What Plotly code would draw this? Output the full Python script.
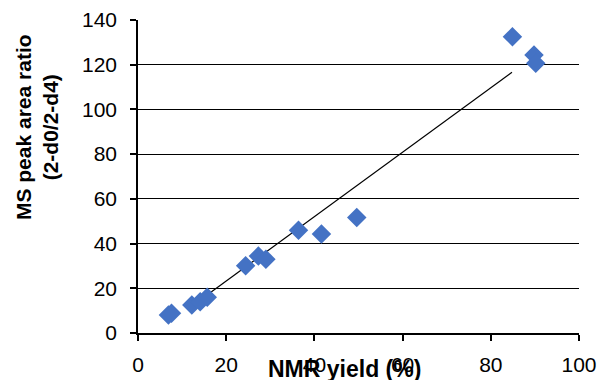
import plotly.graph_objects as go

nmr_yield = [6.9, 7.6, 12.2, 14.1, 15.7, 24.4, 27.3, 29.0, 36.4, 41.6, 49.6, 84.9, 89.8, 90.2]
ms_ratio = [8.0, 8.8, 12.5, 14.0, 16.0, 30.1, 34.4, 33.0, 46.0, 44.3, 51.7, 132.5, 124.3, 120.6]
trend_x = [14.5, 84.8]
trend_y = [15.3, 116.6]
x_ticks = [0, 20, 40, 60, 80, 100]
y_ticks = [0, 20, 40, 60, 80, 100, 120, 140]

fig = go.Figure()
fig.add_trace(go.Scatter(x=trend_x, y=trend_y, mode="lines",
                         line=dict(color="black", width=1.2), showlegend=False))
fig.add_trace(go.Scatter(x=nmr_yield, y=ms_ratio, mode="markers",
                         marker=dict(symbol="diamond", size=15, color="#4472C4"),
                         showlegend=False))

font = dict(family="Liberation Sans, Arial, sans-serif", color="black")
fig.update_layout(
    width=602, height=380,
    margin=dict(l=138, r=23, t=20, b=47),
    plot_bgcolor="white", paper_bgcolor="white",
    font=dict(**font, size=21),
    xaxis=dict(range=[0, 100], tickvals=x_ticks, showgrid=False, zeroline=False,
               showline=True, linecolor="black", linewidth=1.5,
               ticks="outside", ticklen=6, tickcolor="black", tickwidth=1.5,
               ticklabelstandoff=6, automargin=False,
               tickfont=dict(**font, size=21), fixedrange=True),
    yaxis=dict(range=[0, 140], tickvals=y_ticks, showgrid=True, gridcolor="black",
               gridwidth=1.2, zeroline=False,
               showline=True, linecolor="black", linewidth=1.5,
               ticks="outside", ticklen=6, tickcolor="black", tickwidth=1.5,
               ticklabelstandoff=9, automargin=False,
               tickfont=dict(**font, size=21), fixedrange=True),
    annotations=[
        dict(text="<b>NMR yield (%)</b>", xref="paper", yref="paper",
             x=0.469, y=0, yshift=-36, xanchor="center", yanchor="middle",
             showarrow=False, font=dict(**font, size=23)),
        dict(text="<b>MS peak area ratio<br>(2-d0/2-d4)</b>", xref="paper", yref="paper",
             x=0, xshift=-101, y=0.658, xanchor="center", yanchor="middle",
             textangle=-90, showarrow=False, font=dict(**font, size=21)),
    ],
)
fig.write_html("out.html")
